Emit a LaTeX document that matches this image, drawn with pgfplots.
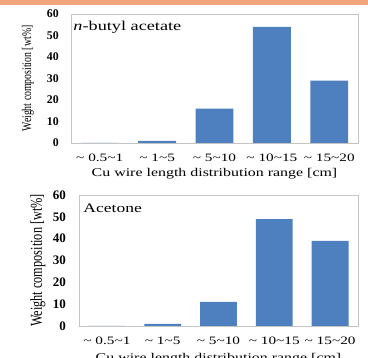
\documentclass[border=0pt]{standalone}
\usepackage{pgfplots}
\pgfplotsset{compat=1.18}
\usepackage{graphicx}
\usepackage{fontspec}
\setmainfont{Liberation Serif}
\definecolor{barblue}{HTML}{4E7FBF}
\definecolor{stripor}{HTML}{F3A67C}
\definecolor{boxgray}{HTML}{C4C4C4}
\newcommand\sx[1]{\scalebox{1.35}[1]{#1}}
\newcommand\sy[1]{\scalebox{1}[1.35]{#1}}
\newcommand\tl{\textasciitilde}
\pgfplotsset{
  mybars/.style={
    scale only axis,
    xmin=-0.5, xmax=4.5, ymin=0, ymax=60,
    ytick={0,10,...,60},
    xtick={0,1,2,3,4},
    xticklabels={\sx{\tl\ 0.5\tl 1},\sx{\tl\ 1\tl 5},\sx{\tl\ 5\tl 10},\sx{\tl\ 10\tl 15},\sx{\tl\ 15\tl 20}},
    major tick length=0pt,
    axis line style={boxgray, line width=0.8pt},
    ybar, bar width=0.66,
    /pgf/number format/assume math mode=true,
    every x tick label/.append style={font=\fontsize{11.3}{12}\selectfont, anchor=center, inner sep=0pt, yshift=-14.5pt},
    every axis x label/.style={at={(axis description cs:0.5,0)}, anchor=center, yshift=-30.5pt, font=\fontsize{11.8}{13}\selectfont},
    xlabel={\sx{Cu wire length distribution range [cm]}},
  }
}
\begin{document}
\begin{tikzpicture}
\path[use as bounding box] (0pt,0pt) rectangle (368pt,358pt);
\fill[stripor] (0pt,353pt) rectangle (368pt,358pt);
\begin{axis}[mybars,
  at={(71pt,215pt)}, anchor=south west,
  width=287pt, height=129pt,
  every y tick label/.append style={font=\fontsize{11.8}{12}\selectfont\bfseries, anchor=east, inner sep=0pt, xshift=-12pt},
  every axis y label/.style={at={(axis description cs:-0.15,0.5)}, rotate=90, anchor=center, font=\fontsize{9.8}{11}\selectfont},
  ylabel={\sy{Weight composition [wt\%]}},
]
\addplot[fill=barblue, draw=none] coordinates {(0,0) (1,1) (2,16) (3,54) (4,29)};
\node[anchor=west, inner sep=0pt, font=\fontsize{13.5}{14}\selectfont] at (axis description cs:0.008,0.9) {\sx{\textit{n}-butyl acetate}};
\end{axis}
\begin{axis}[mybars,
  at={(79pt,32pt)}, anchor=south west,
  width=279pt, height=131pt,
  every y tick label/.append style={font=\fontsize{13}{13}\selectfont\bfseries, anchor=east, inner sep=0pt, xshift=-13pt},
  every axis y label/.style={at={(axis description cs:-0.147,0.5)}, rotate=90, anchor=center, font=\fontsize{12.3}{13}\selectfont},
  every axis x label/.style={at={(axis description cs:0.5,0)}, anchor=center, yshift=-32.5pt, font=\fontsize{11.8}{13}\selectfont},
  ylabel={\sy{Weight composition [wt\%]}},
]
\addplot[fill=barblue, draw=none] coordinates {(0,0) (1,1) (2,11) (3,49) (4,39)};
\node[anchor=west, inner sep=0pt, font=\fontsize{13}{14}\selectfont] at (axis description cs:0.015,0.9) {\sx{Acetone}};
\end{axis}
\end{tikzpicture}
\end{document}
